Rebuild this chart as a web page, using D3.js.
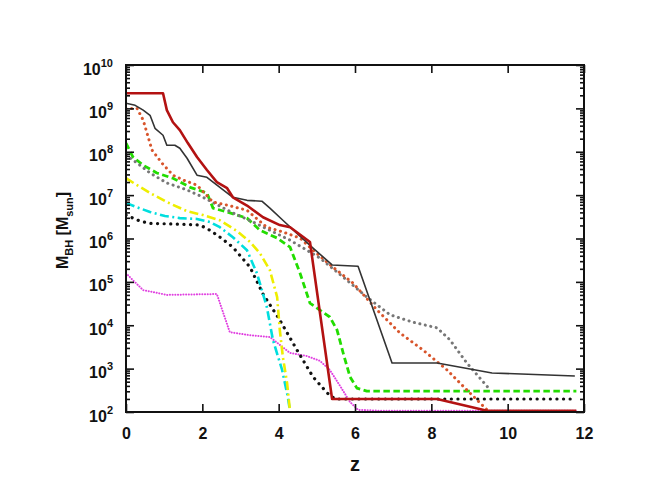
<!DOCTYPE html>
<html>
<head>
<meta charset="utf-8">
<script src="https://cdn.jsdelivr.net/npm/d3@7"></script>
<style>
  body { margin: 0; background: #fff; }
  text { font-family: "Liberation Sans", Arial, sans-serif; fill: #111; }
</style>
</head>
<body>
<div id="chart"></div>
<script>
// x ticks and y decades
var xTicks = [0, 2, 4, 6, 8, 10, 12];
var yDecades = [2, 3, 4, 5, 6, 7, 8, 9, 10];

// each series: redshift values and log10(M_BH / M_sun)
var redZ = [0, 0.97, 1.07, 1.23, 1.41, 1.62, 1.86, 2.12, 2.38, 2.65, 2.8, 3.17, 3.59, 4.03, 4.3, 4.82, 5.4, 8.15, 9.46, 11.8];
var redM = [9.35, 9.35, 8.96, 8.68, 8.5, 8.2, 7.88, 7.58, 7.3, 7.16, 6.95, 6.76, 6.49, 6.31, 6.26, 5.92, 2.3, 2.3, 2.03, 2.03];

var blackZ = [0, 0.24, 0.45, 0.63, 0.76, 0.97, 1.07, 1.28, 1.41, 1.6, 1.86, 2.12, 2.46, 2.8, 3.17, 3.56, 3.77, 4.11, 4.48, 4.9, 5.4, 6.08, 6.97, 8.15, 9.59, 11.76];
var blackM = [9.12, 9.07, 8.96, 8.84, 8.54, 8.38, 8.15, 8.15, 8.08, 7.85, 7.46, 7.41, 7.18, 6.95, 6.88, 6.86, 6.7, 6.42, 6.12, 5.78, 5.39, 5.36, 3.13, 3.13, 2.9, 2.83];

var orangeZ = [0, 0.29, 0.45, 0.58, 0.68, 0.94, 1.23, 1.49, 1.86, 2.28, 2.65, 3.17, 3.69, 4.11, 4.56, 4.9, 5.42, 5.95, 6.58, 7.18, 7.78, 8.41, 8.93, 9.46];
var orangeM = [9.0, 9.0, 8.73, 8.34, 8.04, 7.74, 7.46, 7.35, 7.23, 6.84, 6.77, 6.65, 6.26, 6.15, 6.01, 5.73, 5.34, 4.97, 4.35, 3.82, 3.43, 2.97, 2.51, 2.05];

var grayZ = [0, 0.29, 0.63, 1.07, 1.6, 2.02, 2.8, 3.33, 3.77, 4.3, 4.74, 5.08, 5.69, 6.31, 6.92, 7.52, 8.15, 8.49, 8.93, 9.54];
var grayM = [7.92, 7.74, 7.51, 7.28, 7.12, 6.95, 6.59, 6.38, 6.19, 5.96, 5.73, 5.55, 5.11, 4.65, 4.24, 4.07, 3.94, 3.66, 3.13, 2.51];

var greenZ = [0, 0.18, 0.45, 0.81, 1.23, 1.68, 2.12, 2.28, 2.65, 3.17, 3.51, 3.96, 4.3, 4.56, 4.82, 5.08, 5.34, 5.53, 5.69, 5.87, 6.05, 6.31, 11.8];
var greenM = [8.2, 7.88, 7.69, 7.51, 7.39, 7.18, 7.05, 6.7, 6.61, 6.47, 6.19, 6.01, 5.8, 5.2, 4.51, 4.35, 4.19, 3.89, 3.36, 2.81, 2.55, 2.48, 2.48];

var yellowZ = [0, 0.29, 0.63, 1.07, 1.6, 2.02, 2.46, 2.91, 3.25, 3.51, 3.77, 3.96, 4.03, 4.11, 4.22, 4.3];
var yellowM = [7.39, 7.23, 7.05, 6.84, 6.63, 6.54, 6.42, 6.17, 5.92, 5.66, 5.27, 4.65, 3.89, 3.27, 2.67, 2.0];

var cyanZ = [0, 0.29, 0.63, 1.02, 1.41, 1.86, 2.2, 2.46, 2.8, 3.17, 3.43, 3.69, 3.85, 4.09, 4.24, 4.3];
var cyanM = [6.82, 6.72, 6.61, 6.52, 6.47, 6.45, 6.38, 6.26, 6.03, 5.73, 5.2, 4.42, 3.66, 2.97, 2.35, 2.0];

var dotZ = [0, 0.37, 0.63, 1.41, 1.94, 2.2, 2.46, 2.8, 3.25, 3.59, 4.03, 4.48, 4.9, 5.27, 5.48, 11.8];
var dotM = [6.54, 6.4, 6.35, 6.33, 6.31, 6.19, 6.03, 5.8, 5.34, 4.72, 4.12, 3.43, 2.81, 2.44, 2.3, 2.3];

var magentaZ = [0, 0.18, 0.45, 1.07, 2.38, 2.72, 3.25, 3.77, 4.3, 4.74, 5.08, 5.34, 5.61, 5.87, 6.08, 6.65, 11.8];
var magentaM = [5.2, 5.04, 4.81, 4.7, 4.72, 3.84, 3.77, 3.73, 3.36, 3.29, 3.18, 2.97, 2.6, 2.23, 2.05, 2.03, 2.03];

var series = [
    { z: magentaZ, m: magentaM, color: '#e040e0', width: 2, dash: '0.1 2.6' },
    { z: dotZ, m: dotM, color: '#111111', width: 3.2, dash: '0.1 6.5' },
    { z: cyanZ, m: cyanM, color: '#00dede', width: 2.6, dash: '9 3.5 2 3.5' },
    { z: yellowZ, m: yellowM, color: '#eeee00', width: 2.6, dash: '9 3.5 2 3.5' },
    { z: greenZ, m: greenM, color: '#22dd00', width: 2.8, dash: '6.5 3.5' },
    { z: grayZ, m: grayM, color: '#777777', width: 3, dash: '0.1 5.5' },
    { z: orangeZ, m: orangeM, color: '#d8552c', width: 3, dash: '0.1 5.5' },
    { z: blackZ, m: blackM, color: '#333333', width: 1.6, dash: null },
    { z: redZ, m: redM, color: '#b31212', width: 2.6, dash: null }
];

// size of the svg
var margin = { top: 65, right: 70, bottom: 79, left: 126 },
    w = 654 - margin.left - margin.right,
    h = 491 - margin.top - margin.bottom;

var svg = d3.select('#chart')
    .append('svg')
    .attr('width', 654)
    .attr('height', 491)
    .append('g')
    .attr('transform', `translate(${margin.left},${margin.top})`);

var xScale = d3.scaleLinear().domain([0, 12]).range([0, w]);
var yScale = d3.scaleLog().domain([1e2, 1e10]).range([h, 0]);

svg.append('clipPath').attr('id', 'clip')
    .append('rect').attr('width', w).attr('height', h);

var line = d3.line()
    .x(function (d) { return xScale(d[0]); })
    .y(function (d) { return yScale(Math.pow(10, d[1])); });

svg.append('g').attr('clip-path', 'url(#clip)')
    .selectAll('path')
    .data(series)
    .enter()
    .append('path')
    .attr('d', function (s) { return line(d3.zip(s.z, s.m)); })
    .attr('fill', 'none')
    .attr('stroke', function (s) { return s.color; })
    .attr('stroke-width', function (s) { return s.width; })
    .attr('stroke-dasharray', function (s) { return s.dash; })
    .attr('stroke-linecap', function (s) { return s.dash && s.dash.indexOf('0.1') === 0 ? 'round' : 'butt'; })
    .attr('stroke-linejoin', 'round');

// minor ticks on log axis
var minor = yScale.ticks().filter(function (v) {
    return Math.abs(Math.log10(v) - Math.round(Math.log10(v))) > 1e-6;
});
var majors = yDecades.map(function (e) { return Math.pow(10, e); });

function tickStyle(g) {
    g.select('.domain').remove();
    g.selectAll('line').attr('stroke', '#111').attr('stroke-width', 1.6);
}

svg.append('g').call(d3.axisLeft(yScale).tickValues(minor).tickSize(-4).tickFormat('')).call(tickStyle);
svg.append('g').attr('transform', `translate(${w},0)`)
    .call(d3.axisRight(yScale).tickValues(minor).tickSize(-4).tickFormat('')).call(tickStyle);
svg.append('g').attr('transform', `translate(${w},0)`)
    .call(d3.axisRight(yScale).tickValues(majors).tickSize(-8).tickFormat('')).call(tickStyle);
svg.append('g').call(d3.axisTop(xScale).tickValues(xTicks).tickSize(-8).tickFormat('')).call(tickStyle);

var yAxis = svg.append('g')
    .call(d3.axisLeft(yScale).tickValues(majors).tickSize(-8).tickFormat(''))
    .call(tickStyle);

// 10^n labels
yAxis.selectAll('.tick').append('text')
    .attr('x', -13)
    .attr('y', 9)
    .attr('text-anchor', 'end')
    .style('font-size', '16px')
    .style('font-weight', 'bold')
    .each(function (d) {
        var t = d3.select(this);
        t.append('tspan').text('10');
        t.append('tspan').attr('dy', -8).style('font-size', '11px').text(Math.round(Math.log10(d)));
    });

var xAxis = svg.append('g')
    .attr('transform', `translate(0,${h})`)
    .call(d3.axisBottom(xScale).tickValues(xTicks).tickSize(-8).tickPadding(16))
    .call(tickStyle);
xAxis.selectAll('text')
    .style('font-size', '16px')
    .style('font-weight', 'bold')
    .attr('fill', '#111');

// frame
svg.append('rect')
    .attr('width', w).attr('height', h)
    .attr('fill', 'none').attr('stroke', '#111').attr('stroke-width', 2);

svg.append('text')
    .attr('x', w / 2).attr('y', h + 59)
    .attr('text-anchor', 'middle')
    .style('font-size', '20px').style('font-weight', 'bold')
    .text('z');

var ylab = svg.append('text')
    .attr('transform', `translate(-58,${h / 2 - 8}) rotate(-90)`)
    .attr('text-anchor', 'middle')
    .style('font-size', '16px').style('font-weight', 'bold');
ylab.append('tspan').text('M');
ylab.append('tspan').attr('dy', 5).style('font-size', '11px').text('BH');
ylab.append('tspan').attr('dy', -5).text(' [M');
ylab.append('tspan').attr('dy', 5).style('font-size', '11px').text('sun');
ylab.append('tspan').attr('dy', -5).text(']');
</script>
</body>
</html>
